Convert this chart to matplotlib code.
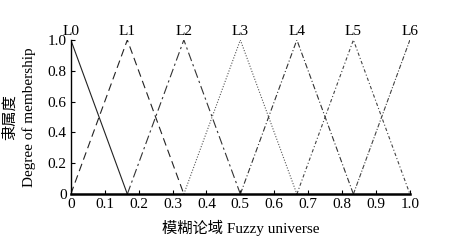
import matplotlib
matplotlib.use('Agg')
import matplotlib.pyplot as plt

plt.rcParams['font.family'] = ['Liberation Serif', 'Noto Sans CJK SC']

# membership functions: triangle vertices (x, y)
names = ['L0', 'L1', 'L2', 'L3', 'L4', 'L5', 'L6']
peaks = [0, 1/6, 2/6, 3/6, 4/6, 5/6, 1.0]
xs = [[0, 1/6],
      [0, 1/6, 2/6],
      [1/6, 2/6, 3/6],
      [2/6, 3/6, 4/6],
      [3/6, 4/6, 5/6],
      [4/6, 5/6, 1.0],
      [5/6, 1.0]]
ys = [[1, 0],
      [0, 1, 0],
      [0, 1, 0],
      [0, 1, 0],
      [0, 1, 0],
      [0, 1, 0],
      [0, 1]]
styles = ['-', (0, (7, 4)), (0, (8, 3, 2, 3)), (0, (1, 1.5)),
          (0, (5, 2, 1, 2)), (0, (3, 2, 1, 2)), (0, (4, 1.5, 1, 1.5))]
colors = ['#222222', '#222222', '#333333', '#555555', '#333333', '#444444', '#444444']

xticks = [0, 0.1, 0.2, 0.3, 0.4, 0.5, 0.6, 0.7, 0.8, 0.9, 1.0]
xticklabels = ['0', '0.1', '0.2', '0.3', '0.4', '0.5', '0.6', '0.7', '0.8', '0.9', '1.0']
yticks = [0, 0.2, 0.4, 0.6, 0.8, 1.0]
yticklabels = ['0', '0.2', '0.4', '0.6', '0.8', '1.0']

fig = plt.figure(figsize=(4.69, 2.42), dpi=100)
ax = fig.add_axes([0.151, 0.198, 0.723, 0.637])

for i in range(len(names)):
    ax.plot(xs[i], ys[i], linestyle=styles[i], color=colors[i], lw=0.8)
    ax.text(peaks[i], 1.015, names[i], ha='center', va='bottom', fontsize=11)

ax.set_xlim(0, 1.0)
ax.set_ylim(0, 1.0)
ax.set_xticks(xticks)
ax.set_xticklabels(xticklabels, fontsize=11)
ax.set_yticks(yticks)
ax.set_yticklabels(yticklabels, fontsize=11)
ax.tick_params(direction='in', length=3, width=0.8, pad=3)
ax.spines['top'].set_visible(False)
ax.spines['right'].set_visible(False)
ax.spines['bottom'].set_linewidth(1.8)
ax.spines['left'].set_linewidth(1.0)

ax.set_xlabel('模糊论域 Fuzzy universe', fontsize=11, labelpad=6)
fig.text(0.020, 0.515, '隶属度', rotation=90, ha='center', va='center', fontsize=11)
fig.text(0.062, 0.515, 'Degree of membership', rotation=90, ha='center', va='center', fontsize=11)

fig.savefig('out.png', dpi=100)
